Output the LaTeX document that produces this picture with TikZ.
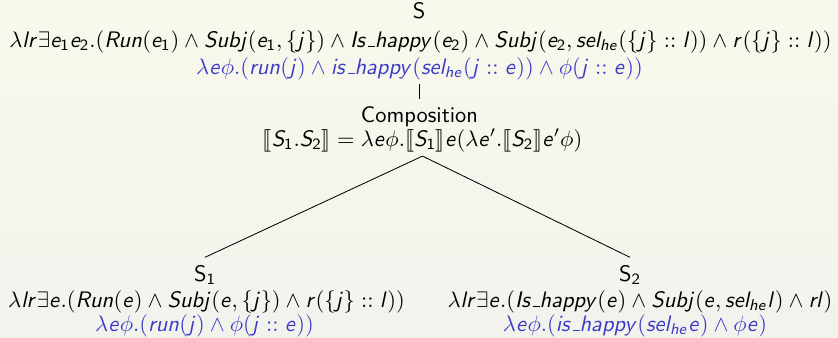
\documentclass[tikz,border=0pt]{standalone}
\usepackage{stmaryrd}
\DeclareSymbolFont{sfit}{OT1}{cmss}{m}{sl}
\DeclareSymbolFont{sfup}{OT1}{cmss}{m}{n}
\def\sfl#1{\DeclareMathSymbol{#1}{\mathalpha}{sfit}{`#1}}
\def\sfd#1{\DeclareMathSymbol{#1}{\mathalpha}{sfup}{`#1}}
\sfl a\sfl b\sfl c\sfl d\sfl e\sfl f\sfl g\sfl h\sfl i\sfl j\sfl k\sfl l\sfl m
\sfl n\sfl o\sfl p\sfl q\sfl r\sfl s\sfl t\sfl u\sfl v\sfl w\sfl x\sfl y\sfl z
\sfl A\sfl B\sfl C\sfl D\sfl E\sfl F\sfl G\sfl H\sfl I\sfl J\sfl K\sfl L\sfl M
\sfl N\sfl O\sfl P\sfl Q\sfl R\sfl S\sfl T\sfl U\sfl V\sfl W\sfl X\sfl Y\sfl Z
\sfd 0\sfd 1\sfd 2\sfd 3\sfd 4\sfd 5\sfd 6\sfd 7\sfd 8\sfd 9
\newcommand{\us}{\mbox{\kern.06em\vbox{\hrule width.3em}}}
\definecolor{bgtop}{RGB}{248,248,236}
\definecolor{bgbot}{RGB}{243,243,238}
\definecolor{semblue}{RGB}{60,60,200}
\tikzset{
  txt/.style={anchor=base, inner sep=0pt, font=\fontsize{10}{12}\selectfont\sffamily},
  sem/.style={txt, text=semblue},
  edge/.style={draw=black, line width=0.37pt}
}
\begin{document}
\begin{tikzpicture}[x=0.4456pt,y=-0.4456pt]
\shade[top color=bgtop, bottom color=bgbot] (0,0) rectangle (838,337);
\useasboundingbox (0,0) rectangle (838,337);
\node[txt] (Stitle) at (419,18) {S};
\node[txt] (Sform) at (420.5,47) {$\lambda lr\exists e_1e_2.(Run(e_1)\wedge Subj(e_1,\{j\})\wedge Is\us happy(e_2)\wedge Subj(e_2,sel_{he}(\{j\}::l))\wedge r(\{j\}::l))$};
\node[sem] (Ssem) at (419.5,74) {$\lambda e\phi.(run(j)\wedge is\us happy(sel_{he}(j::e))\wedge\phi(j::e))$};
\node[txt] (Comp) at (419.5,122) {Composition};
\node[txt] (Cform) at (422.5,146) {$\llbracket S_1.S_2\rrbracket=\lambda e\phi.\llbracket S_1\rrbracket e(\lambda e'.\llbracket S_2\rrbracket e'\phi)$};
\node[txt] (S1) at (205,281) {S$_1$};
\node[txt] (S1form) at (206.5,307) {$\lambda lr\exists e.(Run(e)\wedge Subj(e,\{j\})\wedge r(\{j\}::l))$};
\node[sem] (S1sem) at (204.5,331) {$\lambda e\phi.(run(j)\wedge\phi(j::e))$};
\node[txt] (S2) at (630,281) {S$_2$};
\node[txt] (S2form) at (640,307) {$\lambda lr\exists e.(Is\us happy(e)\wedge Subj(e,sel_{he}l)\wedge rl)$};
\node[sem] (S2sem) at (635,331) {$\lambda e\phi.(is\us happy(sel_{he}e)\wedge\phi e)$};
\coordinate (apex) at ([yshift=-1.8pt]Cform.south);
\draw[edge] ([yshift=-1.8pt]Ssem.south) -- ([yshift=2.8pt]Comp.north);
\draw[edge] (apex) -- ([yshift=3.2pt]S1.north);
\draw[edge] (apex) -- ([yshift=3.2pt]S2.north);
\end{tikzpicture}
\end{document}
